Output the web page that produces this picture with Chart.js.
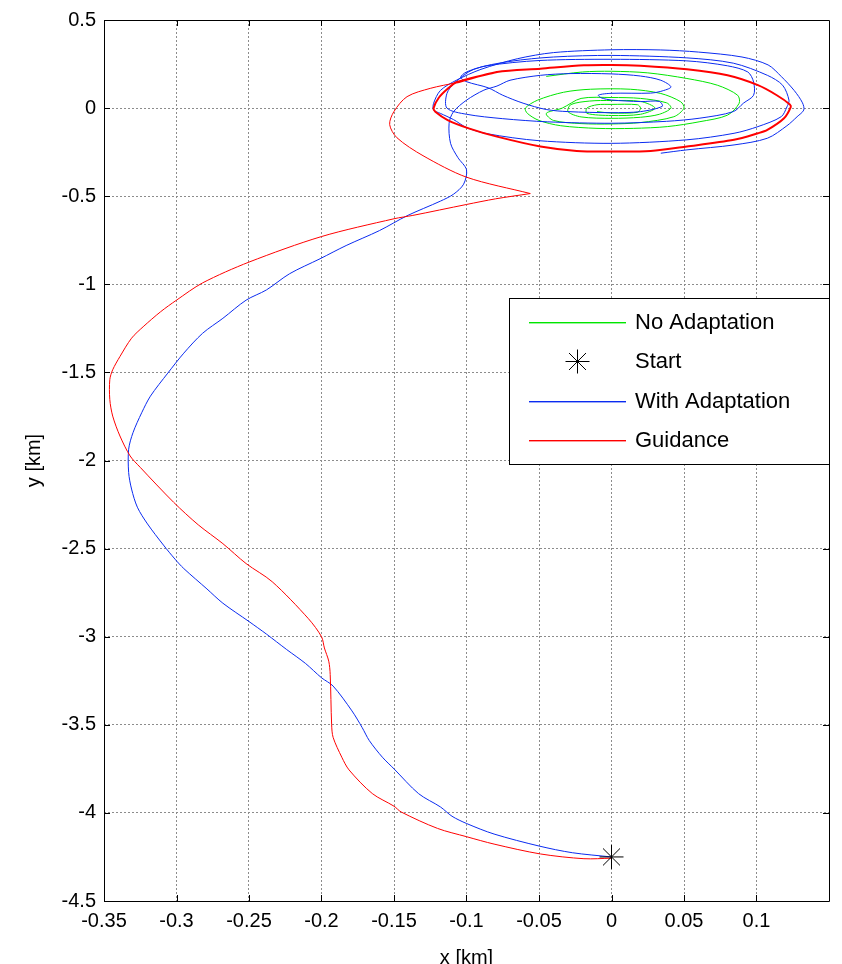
<!DOCTYPE html>
<html>
<head>
<meta charset="utf-8">
<title>Trajectory</title>
<script src="https://cdn.jsdelivr.net/npm/chart.js@4.4.1/dist/chart.umd.min.js"></script>
<style>
  html, body { margin: 0; padding: 0; background: #fff; }
  #wrap { width: 842px; height: 964px; position: relative; }
</style>
</head>
<body>
<div id="wrap"><canvas id="traj"></canvas></div>
<script>
// axis ticks
const xTicks = [-0.35, -0.3, -0.25, -0.2, -0.15, -0.1, -0.05, 0, 0.05, 0.1];
const yTicks = [-4.5, -4, -3.5, -3, -2.5, -2, -1.5, -1, -0.5, 0, 0.5];

// No Adaptation (green spiral)
const noAdaptX = [-0.045, -0.02, 0, 0.025, 0.052, 0.073, 0.087, 0.088, 0.08, 0.061, 0.0385, 0.015, -0.01, -0.035, -0.05, -0.058, -0.0594,
  -0.051, -0.033, -0.0145, 0.013, 0.034, 0.0477, 0.05, 0.043, 0.02, 0, -0.021, -0.04, -0.045,
  -0.034, -0.021, 0, 0.02, 0.038, 0.041, 0.033, 0.02, 0, -0.021, -0.03,
  -0.028, -0.015, 0, 0.02, 0.03, 0.02, 0, -0.017,
  -0.017, -0.01, 0, 0.018, 0.02, 0.018, 0, -0.01];
const noAdaptY = [0.18, 0.205, 0.209, 0.2, 0.168, 0.13, 0.073, 0.027, -0.04, -0.077, -0.105, -0.115, -0.115, -0.1, -0.07, -0.03, 0,
  0.045, 0.09, 0.107, 0.107, 0.083, 0.036, 0, -0.049, -0.082, -0.09, -0.088, -0.07, -0.03,
  0, 0.055, 0.06, 0.055, 0.03, 0, -0.035, -0.052, -0.058, -0.05, -0.02,
  0.02, 0.04, 0.043, 0.038, 0, -0.035, -0.042, -0.03,
  0, 0.019, 0.021, 0.019, 0, -0.024, -0.028, -0.02];

// With Adaptation (blue)
const withAdaptX = [0, -0.027, -0.05, -0.081, -0.1, -0.11, -0.118, -0.133, -0.15, -0.158, -0.167, -0.172, -0.179, -0.192, -0.2,
  -0.211, -0.224, -0.238, -0.25, -0.268, -0.279, -0.295, -0.301, -0.309, -0.32, -0.327, -0.331, -0.333, -0.333, -0.33,
  -0.324, -0.318, -0.306, -0.295, -0.282, -0.268, -0.252, -0.238, -0.222, -0.201, -0.183, -0.16, -0.141, -0.118, -0.109,
  -0.102, -0.1, -0.106, -0.111, -0.112, -0.109, -0.1, -0.088, -0.079,
  -0.07, -0.049, -0.028, 0, 0.02, 0.034, 0.041, 0.034, 0.027, 0, -0.009, -0.007, 0, 0.02, 0.033,
  0.035, 0.02, 0, -0.03, -0.045, -0.061, -0.075, -0.085, -0.1, -0.104, -0.1, -0.086, -0.05, 0, 0.052, 0.08, 0.094,
  0.098, 0.098, 0.091, 0.084, 0.061, 0.038, 0, -0.044, -0.075, -0.1, -0.1135, -0.1135, -0.108, -0.095, -0.07, -0.04,
  0, 0.052, 0.084, 0.1075, 0.118, 0.1224, 0.121, 0.117, 0.101, 0.0845, 0.052, 0, -0.05, -0.086, -0.1, -0.109, -0.118,
  -0.1227, -0.1227, -0.118, -0.107, -0.09, -0.065, -0.04, 0, 0.034, 0.06, 0.09, 0.108, 0.117, 0.126, 0.1317, 0.1326,
  0.128, 0.121, 0.1075, 0.0845, 0.052, 0.034];
const withAdaptY = [-4.25, -4.226, -4.188, -4.12, -4.06, -4.019, -3.966, -3.891, -3.75, -3.684, -3.59, -3.515, -3.421, -3.28, -3.233,
  -3.152, -3.073, -2.985, -2.914, -2.81, -2.729, -2.613, -2.56, -2.48, -2.36, -2.265, -2.162, -2.068, -1.936, -1.842,
  -1.729, -1.635, -1.504, -1.391, -1.278, -1.193, -1.09, -1.032, -0.94, -0.855, -0.78, -0.695, -0.611, -0.528, -0.489,
  -0.432, -0.35, -0.28, -0.2, -0.086, -0.021, 0.045, 0.102, 0.125,
  0.158, 0.186, 0.196, 0.194, 0.182, 0.158, 0.12, 0.095, 0.085, 0.084, 0.074, 0.058, 0.046, 0.037, 0.038,
  0.01, -0.02, -0.026, -0.02, -0.008, 0.028, 0.073, 0.115, 0.15, 0.175, 0.205, 0.24, 0.27, 0.277, 0.268, 0.24, 0.205,
  0.148, 0.073, 0.028, -0.02, -0.057, -0.075, -0.086, -0.078, -0.06, -0.035, 0, 0.083, 0.145, 0.22, 0.265, 0.29,
  0.299, 0.285, 0.255, 0.186, 0.13, 0.045, 0.007, -0.049, -0.105, -0.143, -0.18, -0.2, -0.185, -0.145, -0.11, -0.065, -0.03,
  -0.011, 0.027, 0.1, 0.158, 0.22, 0.28, 0.315, 0.331, 0.33, 0.318, 0.29, 0.245, 0.18, 0.1, 0.03, -0.011,
  -0.049, -0.1, -0.171, -0.209, -0.237, -0.256];

// Guidance (red): approach path, then the loop it keeps circling
const guidancePathX = [0, -0.019, -0.049, -0.081, -0.1, -0.12, -0.145, -0.15, -0.165, -0.181, -0.186, -0.192, -0.193, -0.194,
  -0.195, -0.198, -0.2, -0.209, -0.234, -0.252, -0.268, -0.285, -0.302, -0.325, -0.332, -0.339, -0.344, -0.346, -0.346,
  -0.344, -0.339, -0.331, -0.323, -0.311, -0.3, -0.282, -0.25, -0.2, -0.15, -0.137, -0.1, -0.08, -0.056, -0.056,
  -0.1, -0.13, -0.148, -0.153, -0.15, -0.141, -0.125, -0.107];
const guidancePathY = [-4.257, -4.26, -4.233, -4.177, -4.135, -4.088, -3.995, -3.962, -3.89, -3.756, -3.684, -3.571, -3.5, -3.214,
  -3.139, -3.064, -3, -2.898, -2.688, -2.585, -2.472, -2.365, -2.237, -2.039, -1.974, -1.861, -1.748, -1.654, -1.541,
  -1.485, -1.41, -1.306, -1.241, -1.156, -1.09, -0.992, -0.874, -0.729, -0.628, -0.609, -0.547, -0.515, -0.485, -0.485,
  -0.392, -0.27, -0.168, -0.093, -0.019, 0.065, 0.112, 0.145];
const guidanceLoopX = [-0.079, -0.049, -0.019, 0, 0.02, 0.052, 0.08, 0.101, 0.114, 0.123, 0.1236, 0.119, 0.1075, 0.101, 0.0845,
  0.052, 0.027, 0, -0.024, -0.049, -0.079, -0.0985, -0.113, -0.1215, -0.1227, -0.119, -0.113, -0.1066, -0.079];
const guidanceLoopY = [0.205, 0.224, 0.243, 0.245, 0.24, 0.22, 0.186, 0.13, 0.073, 0.021, 0.005, -0.058, -0.124, -0.143, -0.18,
  -0.218, -0.243, -0.246, -0.243, -0.218, -0.162, -0.115, -0.068, -0.021, 0, 0.06, 0.11, 0.148, 0.205];

// Start marker
const startX = [0];
const startY = [-4.25];

const guidanceX = guidancePathX.concat(guidanceLoopX);
const guidanceY = guidancePathY.concat(guidanceLoopY);

const seriesColors = {
    noAdapt: 'rgb(0, 230, 0)',
    start: 'rgb(0, 0, 0)',
    withAdapt: 'rgb(10, 43, 240)',
    guidance: 'rgb(255, 0, 0)'
};

function toPoints(xs, ys) {
    return xs.map((x, i) => ({ x: x, y: ys[i] }));
}

const fontFamily = '"Liberation Sans", Arial, Helvetica, sans-serif';

function tickText(v) {
    return String(+Number(v).toFixed(2));
}

// MATLAB-like box with inward ticks on all four sides
const boxPlugin = {
    id: 'box',
    afterDatasetsDraw(chart) {
        const ctx = chart.ctx;
        const a = chart.chartArea;
        const sx = chart.scales.x, sy = chart.scales.y;
        ctx.save();
        ctx.strokeStyle = '#000';
        ctx.lineWidth = 1;
        ctx.beginPath();
        ctx.rect(Math.round(a.left) + 0.5, Math.round(a.top) + 0.5, Math.round(a.right - a.left), Math.round(a.bottom - a.top));
        ctx.stroke();
        ctx.beginPath();
        xTicks.forEach(v => {
            const p = Math.round(sx.getPixelForValue(v)) + 0.5;
            ctx.moveTo(p, a.bottom); ctx.lineTo(p, a.bottom - 6);
            ctx.moveTo(p, a.top); ctx.lineTo(p, a.top + 6);
        });
        yTicks.forEach(v => {
            const p = Math.round(sy.getPixelForValue(v)) + 0.5;
            ctx.moveTo(a.left, p); ctx.lineTo(a.left + 6, p);
            ctx.moveTo(a.right, p); ctx.lineTo(a.right - 6, p);
        });
        ctx.stroke();
        ctx.restore();
    }
};

function drawStar(ctx, x, y, r) {
    const d = r * Math.SQRT1_2;
    ctx.beginPath();
    ctx.moveTo(x - r, y); ctx.lineTo(x + r, y);
    ctx.moveTo(x, y - r); ctx.lineTo(x, y + r);
    ctx.moveTo(x - d, y - d); ctx.lineTo(x + d, y + d);
    ctx.moveTo(x - d, y + d); ctx.lineTo(x + d, y - d);
    ctx.stroke();
}

// legend box inside the axes, like the MATLAB one
const legendPlugin = {
    id: 'boxLegend',
    afterDraw(chart) {
        const ctx = chart.ctx;
        const a = chart.chartArea;
        const w = 320, h = 166;
        const left = Math.round(a.right - w);
        const top = 298;
        ctx.save();
        ctx.fillStyle = '#fff';
        ctx.fillRect(left, top, w, h);
        ctx.strokeStyle = '#000';
        ctx.lineWidth = 1;
        ctx.strokeRect(left + 0.5, top + 0.5, w, h);
        ctx.font = '22px ' + fontFamily;
        ctx.textBaseline = 'middle';
        ctx.textAlign = 'left';
        chart.data.datasets.forEach((ds, i) => {
            const y = Math.round(top + 24 + i * 39.3);
            if (ds.showLine) {
                ctx.fillStyle = ds.borderColor;
                ctx.fillRect(left + 20, y, 97, 1.4);
            } else {
                ctx.strokeStyle = ds.borderColor;
                ctx.lineWidth = 1;
                drawStar(ctx, left + 68.5, y + 0.5, 12);
            }
            ctx.fillStyle = '#000';
            ctx.fillText(ds.label, left + 126, y + 1);
        });
        ctx.restore();
    }
};

const ctx = document.getElementById('traj').getContext('2d');

new Chart(ctx, {
    type: 'scatter',
    data: {
        datasets: [{
            label: 'No Adaptation',
            data: toPoints(noAdaptX, noAdaptY),
            showLine: true,
            borderColor: seriesColors.noAdapt,
            borderWidth: 1,
            pointRadius: 0,
            tension: 0.3,
            order: 4
        }, {
            label: 'Start',
            data: toPoints(startX, startY),
            showLine: false,
            pointStyle: 'star',
            pointRadius: 12,
            borderColor: seriesColors.start,
            borderWidth: 1,
            order: 1
        }, {
            label: 'With Adaptation',
            data: toPoints(withAdaptX, withAdaptY),
            showLine: true,
            borderColor: seriesColors.withAdapt,
            borderWidth: 1,
            pointRadius: 0,
            tension: 0.3,
            order: 3
        }, {
            label: 'Guidance',
            data: toPoints(guidanceX, guidanceY),
            showLine: true,
            borderColor: seriesColors.guidance,
            borderWidth: 1,
            pointRadius: 0,
            tension: 0.3,
            segment: {
                borderWidth: c => c.p0DataIndex >= guidancePathX.length - 1 ? 2 : 1
            },
            order: 2
        }]
    },
    options: {
        responsive: true,
        maintainAspectRatio: false,
        devicePixelRatio: 1,
        animation: false,
        layout: { padding: { top: 15, right: 9, left: 0, bottom: 0 } },
        plugins: {
            legend: { display: false },
            tooltip: { enabled: false }
        },
        scales: {
            x: {
                type: 'linear',
                min: -0.35,
                max: 0.15,
                afterBuildTicks: s => { s.ticks = xTicks.map(v => ({ value: v })); },
                afterFit: s => { s.height = 63; },
                ticks: {
                    color: '#000',
                    font: { family: fontFamily, size: 20 },
                    padding: 8,
                    maxRotation: 0,
                    autoSkip: false,
                    callback: v => tickText(v)
                },
                grid: { color: '#8c8c8c', lineWidth: 1, drawTicks: false },
                border: { display: false, dash: [2, 2] },
                title: {
                    display: true,
                    text: 'x [km]',
                    color: '#000',
                    font: { family: fontFamily, size: 20 },
                    padding: { top: 0, bottom: -6 }
                }
            },
            y: {
                type: 'linear',
                min: -4.5,
                max: 0.5,
                afterBuildTicks: s => { s.ticks = yTicks.map(v => ({ value: v })); },
                afterFit: s => { s.width = 104; },
                ticks: {
                    color: '#000',
                    font: { family: fontFamily, size: 20 },
                    padding: 8,
                    autoSkip: false,
                    callback: v => tickText(v)
                },
                grid: { color: '#8c8c8c', lineWidth: 1, drawTicks: false },
                border: { display: false, dash: [2, 2] },
                title: {
                    display: true,
                    text: 'y [km]',
                    color: '#000',
                    font: { family: fontFamily, size: 20 },
                    padding: { top: 22, bottom: 0 }
                }
            }
        }
    },
    plugins: [boxPlugin, legendPlugin]
});
</script>
</body>
</html>
